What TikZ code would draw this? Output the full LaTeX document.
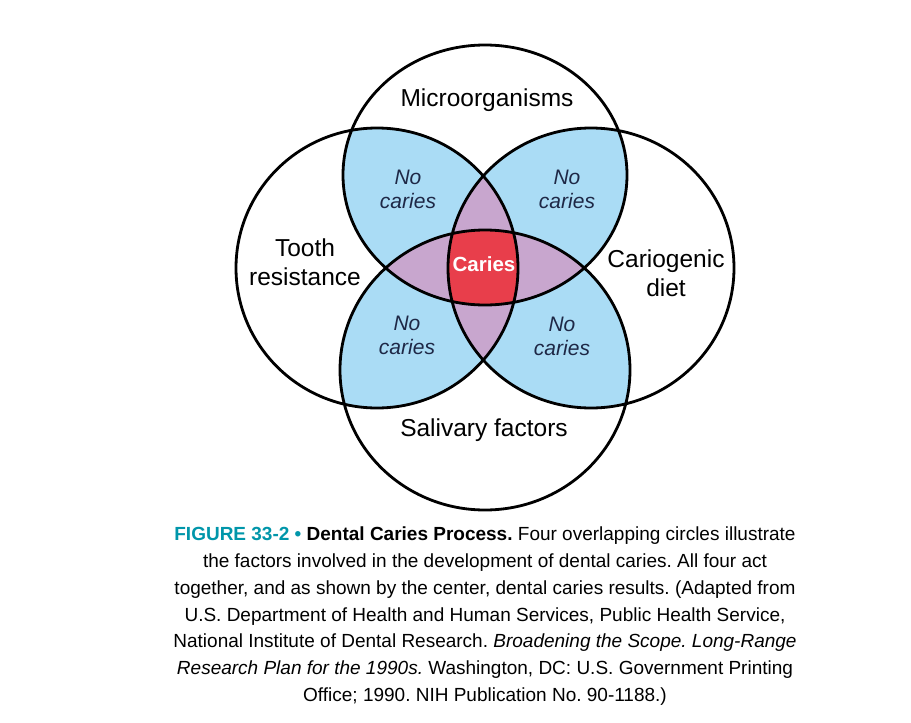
\documentclass[tikz,border=0pt]{standalone}
\usepackage{fontspec}
\setmainfont{Liberation Sans}
\usetikzlibrary{positioning}
\definecolor{mblue}{RGB}{170, 220, 245}
\definecolor{mpurple}{RGB}{200, 166, 206}
\definecolor{mred}{RGB}{232, 62, 75}
\definecolor{mnavy}{RGB}{30, 40, 70}
\definecolor{mteal}{RGB}{0, 150, 170}
\tikzset{factor/.style = {align=center, font=\fontsize{24.5}{29}\selectfont}}
\tikzset{nocaries/.style = {align=center, text=mnavy, font=\fontsize{21}{24}\itshape}}
\tikzset{capline/.style = {font=\fontsize{19}{20}\selectfont}}
\newcommand{\topc}{(485, 175) ellipse [x radius=142, y radius=130]}
\newcommand{\botc}{(485, 370) ellipse [x radius=145, y radius=140]}
\newcommand{\leftc}{(377, 268) ellipse [x radius=141, y radius=140]}
\newcommand{\rightc}{(591, 268) ellipse [x radius=143, y radius=140]}
\frenchspacing

\begin{document}
\begin{tikzpicture}[x=1pt, y=-1pt]
      \useasboundingbox (0, 0) rectangle (911, 723);
      \fill [white] (0, 0) rectangle (911, 723);

      % blue pairs
      \begin{scope} \clip \topc; \fill [mblue] \leftc; \fill [mblue] \rightc; \end{scope}
      \begin{scope} \clip \botc; \fill [mblue] \leftc; \fill [mblue] \rightc; \end{scope}
      % purple lenses
      \begin{scope} \clip \topc; \fill [mpurple] \botc; \end{scope}
      \begin{scope} \clip \leftc; \fill [mpurple] \rightc; \end{scope}
      % red centre
      \begin{scope}
        \clip \topc; \clip \botc; \clip \leftc;
        \fill [mred] \rightc;
      \end{scope}

      \draw [line width=2.8pt] \topc \botc \leftc \rightc;

      \node [factor] (micro) at (487, 100) {Microorganisms};
      \node [factor] (tooth) at (305, 262) {Tooth\\resistance};
      \node [factor] (diet) at (666, 273) {Cariogenic\\diet};
      \node [factor] (saliva) at (484, 430) {Salivary factors};
      \node [text=white, font=\fontsize{20.5}{20}\bfseries\selectfont] (caries) at (484, 264) {Caries};

      \node [nocaries] (nc1) at (408, 189) {No\\caries};
      \node [nocaries] (nc2) at (567, 189) {No\\caries};
      \node [nocaries] (nc3) at (407, 335) {No\\caries};
      \node [nocaries] (nc4) at (562, 336) {No\\caries};

      \node [capline] (cap1) at (485, 536) {\textcolor{mteal}{\textbf{FIGURE 33-2 •}} \textbf{Dental Caries Process.} Four overlapping circles illustrate};
      \node [capline] (cap2) at (485, 563) {the factors involved in the development of dental caries. All four act};
      \node [capline] (cap3) at (485, 590) {together, and as shown by the center, dental caries results. (Adapted from};
      \node [capline] (cap4) at (485, 617) {U.S. Department of Health and Human Services, Public Health Service,};
      \node [capline] (cap5) at (485, 643) {National Institute of Dental Research. \textit{Broadening the Scope. Long-Range}};
      \node [capline] (cap6) at (485, 670) {\textit{Research Plan for the 1990s.} Washington, DC: U.S. Government Printing};
      \node [capline] (cap7) at (485, 697) {Office; 1990. NIH Publication No. 90-1188.)};
\end{tikzpicture}
\end{document}
